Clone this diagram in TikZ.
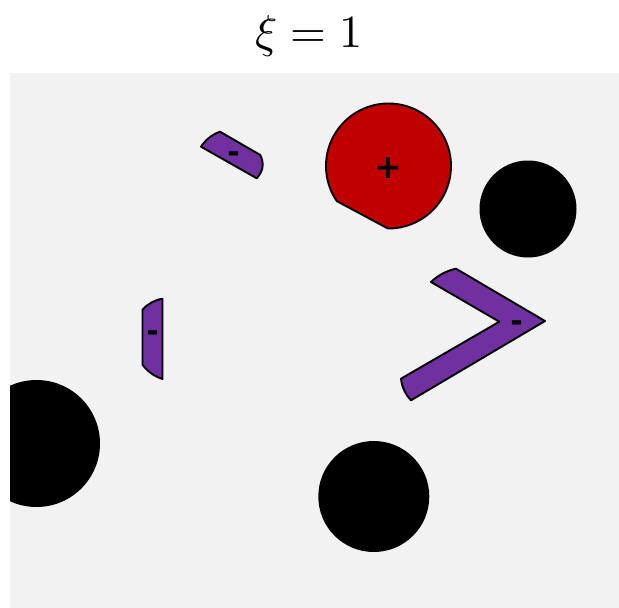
\documentclass[tikz,border=0pt]{standalone}
\usepackage{fontspec}
\usepackage{unicode-math}
\newfontfamily\signfont{DejaVu Sans}[BoldFont={DejaVu Sans Bold}]
\definecolor{bggray}{RGB}{242,242,242}
\definecolor{chargered}{RGB}{192,0,0}
\definecolor{chargepurple}{RGB}{112,48,160}
\tikzset{
  shapeout/.style={draw=black, line width=1.9pt, line join=round},
  negpiece/.style={shapeout, fill=chargepurple},
  pospiece/.style={shapeout, fill=chargered},
  blackdisk/.style={fill=black},
  signlabel/.style={font=\signfont\bfseries\fontsize{30}{30}\selectfont, inner sep=0pt},
  pluslabel/.style={font=\signfont\bfseries\fontsize{33}{33}\selectfont, inner sep=0pt},
}
\begin{document}
\begin{tikzpicture}[x=1pt,y=-1pt]
\useasboundingbox (0,0) rectangle (619,608);
% title
\node[anchor=base, inner sep=0pt, font=\fontsize{46}{52}\selectfont] (title) at (309,47.7) {$\xi = 1$};
% background
\fill[bggray] (10,72.7) rectangle (619,608);
\begin{scope}
  \clip (10,72.7) rectangle (619,608);
  \fill[blackdisk] (36.5,443.5) circle[radius=63.5pt];
  \fill[blackdisk] (528,209) circle[radius=48.5pt];
  \fill[blackdisk] (373.8,496.5) circle[radius=55.5pt];
\end{scope}
% red charge (circle with a chord cut)
\coordinate (rc) at (388.5,166);
\draw[pospiece] ([shift={(214.2:62.5pt)}]rc) arc[start angle=214.2, end angle=-90.5, radius=62.5pt] -- cycle;
\node[pluslabel] (plus) at (388.3,168.6) {+};
% purple strip top-left
\draw[negpiece] (201,146.7) .. controls (205.7,139.6) and (212,134.6) .. (220,131.7) -- (260.3,155)
   .. controls (264.4,163.6) and (263.2,171.4) .. (256.7,178.3) -- cycle;
\node[signlabel] (m1) at (233.7,157.2) {-};
% purple vertical strip
\draw[negpiece] (142.5,309.7) .. controls (147.9,303.7) and (154.55,300.0) .. (162.5,298.7) -- (162.5,379)
   .. controls (154.3,376.4) and (147.6,371.6) .. (142.5,364.7) -- cycle;
\node[signlabel] (m2) at (152.7,336.2) {-};
% purple chevron
\draw[negpiece] (431,282) .. controls (438.1,275.2) and (446.4,270.8) .. (456,268.7) -- (545,321) -- (411,400.3)
   .. controls (405.25,394.2) and (401.9,387.0) .. (401,378.7) -- (499.3,321.7) -- cycle;
\node[signlabel] (m3) at (516.7,326.2) {-};
\end{tikzpicture}
\end{document}
